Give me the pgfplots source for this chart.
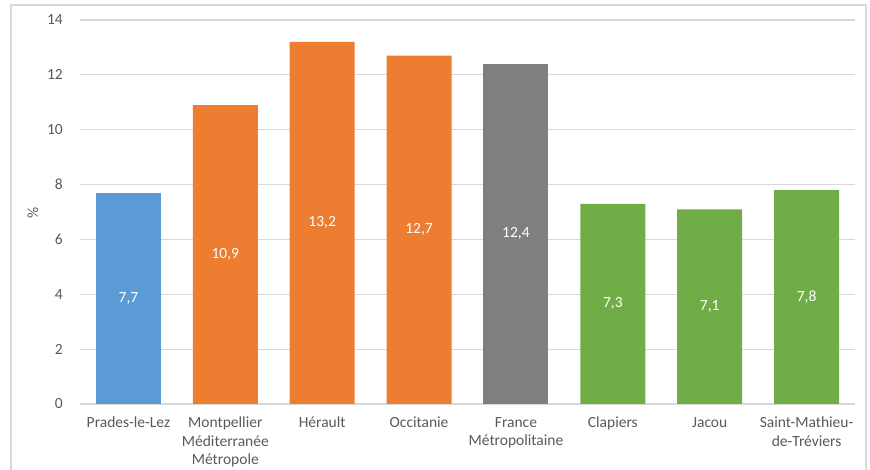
\documentclass[border=0pt]{standalone}
\usepackage{pgfplots}
\pgfplotsset{compat=1.18}
\usepackage{fontspec}
\setmainfont{Carlito}
\definecolor{cblue}{HTML}{5B9BD5}
\definecolor{corange}{HTML}{ED7D31}
\definecolor{cgray}{HTML}{7F7F7F}
\definecolor{cgreen}{HTML}{70AD47}
\definecolor{txt}{HTML}{595959}
\definecolor{gridc}{HTML}{D9D9D9}
\begin{document}
\begin{tikzpicture}
\begin{axis}[
  at={(80pt,66pt)}, anchor=south west,
  scale only axis, width=775pt, height=384pt,
  xmin=-0.5, xmax=7.5, ymin=0, ymax=14,
  ytick={0,2,...,14},
  xtick={0,...,7},
  xticklabels={Prades-le-Lez,{Montpellier\\Méditerranée\\Métropole},Hérault,Occitanie,{France\\Métropolitaine},Clapiers,Jacou,{Saint-Mathieu-\\de-Tréviers}},
  axis line style={draw=none},
  major tick length=0pt,
  ymajorgrids, grid style={gridc, line width=1.2pt},
  /pgf/number format/assume math mode=true,
  ticklabel style={txt, font=\fontsize{15.5}{18.5}\selectfont},
  yticklabel style={anchor=east, inner sep=0pt, xshift=-17pt},
  xticklabel style={anchor=north, inner sep=0pt, yshift=-13pt, align=center},
  ybar, bar width=65pt,
  nodes near coords={\pgfmathprintnumber[fixed,fixed zerofill,precision=1,use comma,assume math mode=true]{\pgfplotspointmeta}},
  visualization depends on={y \as \rawy},
  every node near coord/.append style={white, font=\fontsize{15.5}{19}\selectfont, anchor=center, shift={(axis direction cs:0,-\rawy/2)}},
  clip=false,
]
\addplot[fill=cblue, draw=none, bar shift=0pt] coordinates {(0,7.7)};
\addplot[fill=corange, draw=none, bar shift=0pt] coordinates {(1,10.9) (2,13.2) (3,12.7)};
\addplot[fill=cgray, draw=none, bar shift=0pt] coordinates {(4,12.4)};
\addplot[fill=cgreen, draw=none, bar shift=0pt] coordinates {(5,7.3) (6,7.1) (7,7.8)};
\end{axis}
\draw[gridc, line width=1.2pt] (11pt,-10pt) rectangle (866pt,465pt);
\node[rotate=90, txt, font=\fontsize{15.5}{19}\selectfont] at (33pt,257pt) {\%};
\pgfresetboundingbox
\useasboundingbox (0pt,0pt) rectangle (870pt,470pt);
\end{tikzpicture}
\end{document}
